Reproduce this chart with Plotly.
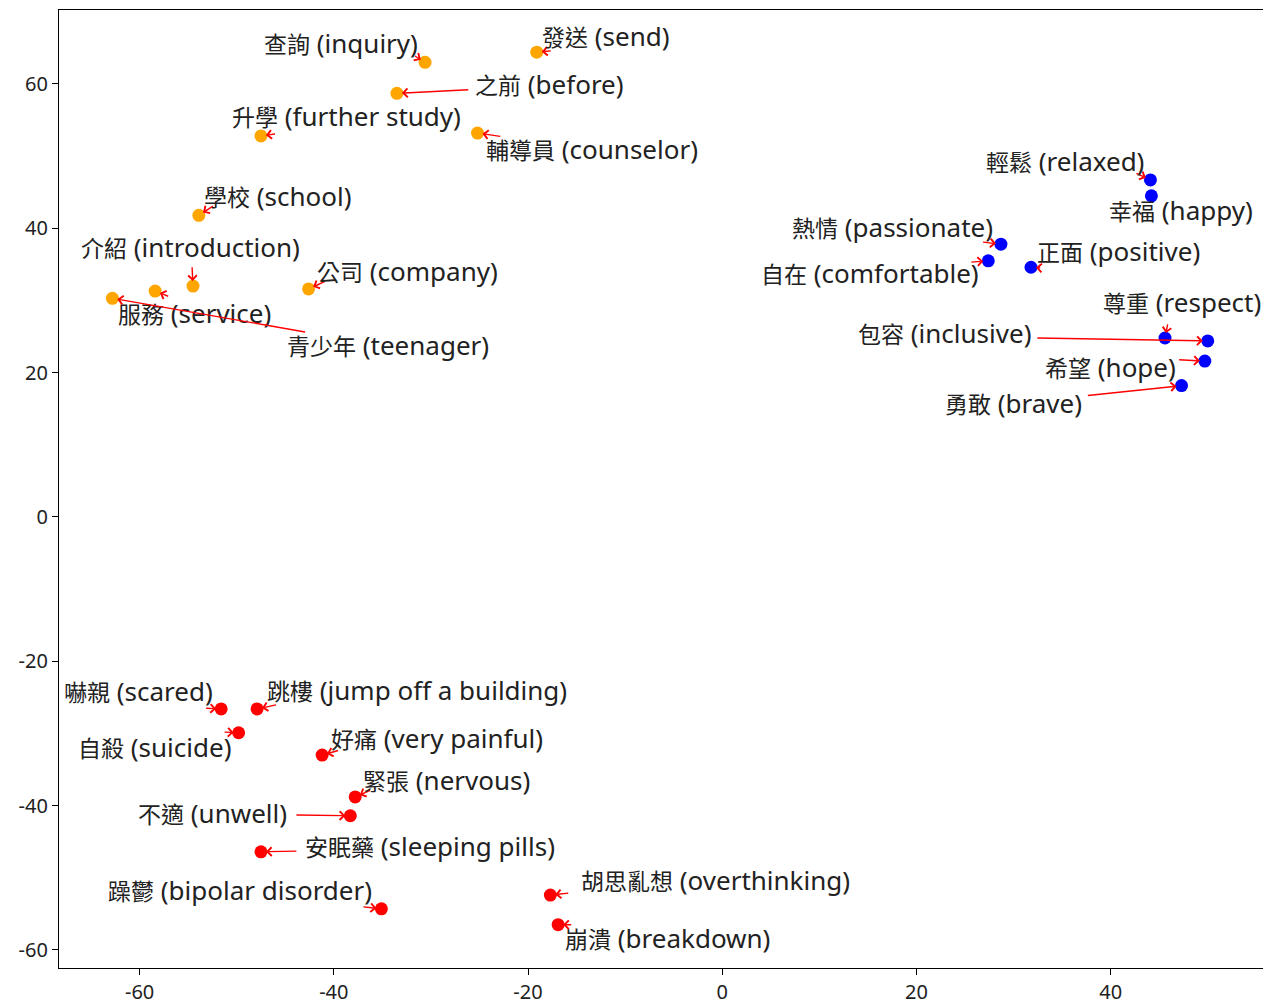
import plotly.graph_objects as go

# ---- data ----
labels_zh = [
    "查詢", "發送", "之前", "升學", "輔導員", "學校", "介紹", "公司", "服務", "青少年",
    "輕鬆", "幸福", "熱情", "自在", "正面", "尊重", "包容", "希望", "勇敢",
    "嚇親", "跳樓", "自殺", "好痛", "緊張", "不適", "安眠藥", "躁鬱", "胡思亂想", "崩潰",
]
labels_en = [
    "inquiry", "send", "before", "further study", "counselor", "school", "introduction",
    "company", "service", "teenager",
    "relaxed", "happy", "passionate", "comfortable", "positive", "respect", "inclusive",
    "hope", "brave",
    "scared", "jump off a building", "suicide", "very painful", "nervous", "unwell",
    "sleeping pills", "bipolar disorder", "overthinking", "breakdown",
]
xs = [-30.6, -19.1, -33.5, -47.5, -25.2, -53.9, -54.5, -42.6, -58.4, -62.8,
      44.1, 44.2, 28.7, 27.4, 31.8, 45.6, 50.0, 49.7, 47.3,
      -51.6, -47.9, -49.8, -41.2, -37.8, -38.3, -47.5, -35.1, -17.7, -16.9]
ys = [63.0, 64.4, 58.7, 52.8, 53.2, 41.8, 32.0, 31.6, 31.3, 30.3,
      46.7, 44.5, 37.8, 35.5, 34.6, 24.8, 24.4, 21.6, 18.2,
      -26.6, -26.6, -29.9, -33.0, -38.8, -41.4, -46.4, -54.3, -52.4, -56.5]
groups = ["neutral"] * 10 + ["positive"] * 9 + ["negative"] * 10
# label (text) centres in data coordinates
label_x = [-39.3, -12.0, -17.8, -38.7, -13.4, -45.7, -54.8, -32.4, -54.3, -34.4,
           35.3, 47.2, 17.5, 15.2, 40.8, 47.3, 22.9, 40.0, 30.0,
           -60.1, -31.4, -58.5, -29.4, -28.4, -52.5, -30.1, -49.7, -0.7, -5.6]
label_y = [65.7, 66.6, 60.0, 55.6, 51.0, 44.5, 37.4, 34.1, 28.3, 23.8,
           49.3, 42.5, 40.2, 33.8, 36.9, 29.8, 25.5, 20.8, 15.8,
           -24.1, -24.0, -31.9, -30.6, -36.4, -41.0, -45.6, -51.7, -50.3, -58.3]
# arrow tail (start) positions in data coordinates
tail_x = [-31.8, -17.5, -26.0, -45.9, -22.7, -52.3, -54.6, -40.8, -56.9, -42.8,
          42.5, 45.1, 26.7, 25.5, 32.9, 45.9, 32.3, 46.9, 37.5,
          -53.3, -45.8, -51.4, -39.4, -36.1, -44.0, -43.7, -37.1, -15.7, -15.4]
tail_y = [64.0, 64.6, 59.2, 53.1, 52.7, 43.2, 34.8, 32.7, 30.5, 25.6,
          47.7, 44.3, 38.1, 35.3, 34.5, 26.9, 24.8, 21.8, 16.8,
          -26.5, -26.0, -29.8, -32.3, -37.8, -41.3, -46.3, -54.0, -52.1, -56.5]
group_colors = {"neutral": "orange", "positive": "blue", "negative": "red"}
x_ticks = [-60, -40, -20, 0, 20, 40]
y_ticks = [-60, -40, -20, 0, 20, 40, 60]

fig = go.Figure()
for g, col in group_colors.items():
    idx = [i for i, gg in enumerate(groups) if gg == g]
    fig.add_trace(go.Scatter(
        x=[xs[i] for i in idx], y=[ys[i] for i in idx], mode="markers",
        marker=dict(color=col, size=13, line=dict(width=0)),
        showlegend=False, hoverinfo="skip"))

for i in range(len(labels_zh)):
    # arrow from tail to the point
    fig.add_annotation(
        x=xs[i], y=ys[i], xref="x", yref="y",
        ax=tail_x[i], ay=tail_y[i], axref="x", ayref="y",
        text="", showarrow=True, arrowhead=4, arrowsize=1.2, arrowwidth=1.4,
        arrowcolor="red", standoff=5, startstandoff=0,
    )
    txt = f'<span style="font-size:23px">{labels_zh[i]}</span> ({labels_en[i]})'
    fig.add_annotation(
        x=label_x[i], y=label_y[i], xref="x", yref="y",
        text=txt, showarrow=False, xanchor="center", yanchor="middle",
        font=dict(family="Noto Sans, Noto Sans CJK TC", size=26, color="#222222"),
        borderpad=0,
    )

tick_font = dict(family="Noto Sans", size=20, color="#222222")
fig.update_xaxes(range=[-68.3, 56.0], tickvals=x_ticks, ticktext=[str(v) for v in x_ticks],
                 ticks="outside", ticklen=6, tickcolor="black", showgrid=False,
                 zeroline=False, showline=True, linecolor="black", linewidth=1.2,
                 mirror=True, automargin=False, tickfont=tick_font)
fig.update_yaxes(range=[-62.5, 70.25], tickvals=y_ticks, ticktext=[str(v) for v in y_ticks],
                 ticks="outside", ticklen=6, tickcolor="black", showgrid=False,
                 zeroline=False, showline=True, linecolor="black", linewidth=1.2,
                 mirror=True, automargin=False, tickfont=tick_font)
# the page adds an 8px body margin, so the figure is sized/margined to compensate
fig.update_layout(width=1263, height=999, plot_bgcolor="white", paper_bgcolor="white",
                  margin=dict(l=51, r=5, t=2, b=39))
fig.write_html("out.html")
